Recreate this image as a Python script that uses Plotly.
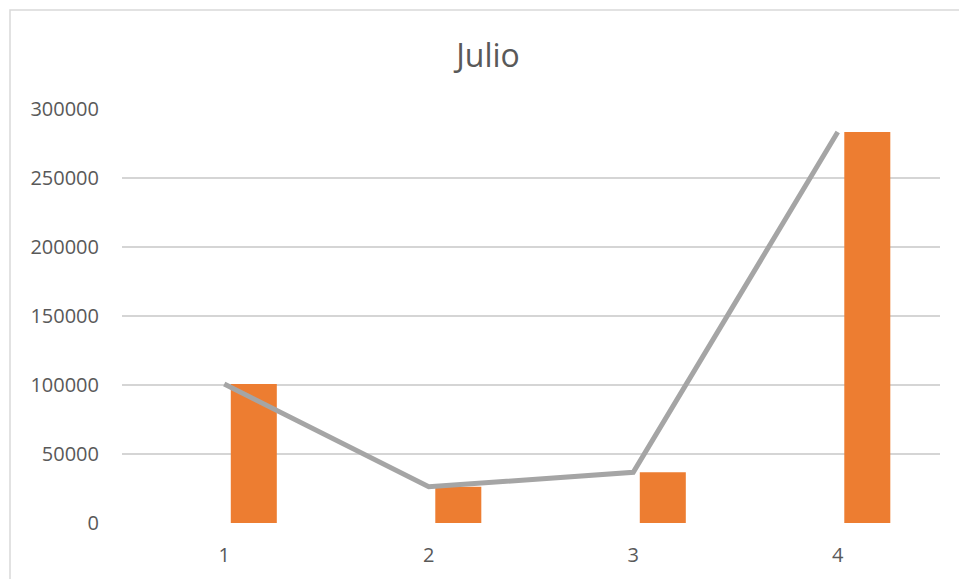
import plotly.graph_objects as go

categories = [1, 2, 3, 4]
bar_values = [100700, 26300, 36700, 283300]
line_values = [100700, 26300, 36700, 283300]
y_ticks = [0, 50000, 100000, 150000, 200000, 250000, 300000]
title_text = "Julio"

fig = go.Figure()
fig.add_trace(go.Bar(
    x=categories, y=bar_values,
    marker=dict(color="#ED7D31", line=dict(width=0)),
    width=0.225, offset=0.032,
    showlegend=False,
))
fig.add_trace(go.Scatter(
    x=categories, y=line_values, mode="lines",
    line=dict(color="#A5A5A5", width=5),
    showlegend=False,
))

fig.update_layout(
    width=959, height=579,
    margin=dict(l=122, r=19, t=109, b=56),
    paper_bgcolor="white", plot_bgcolor="white",
    font=dict(family="Open Sans", color="#595959", size=20),
    title=dict(text=title_text, x=488 / 959, xanchor="center", xref="container",
               y=1 - 56 / 579, yanchor="middle",
               font=dict(size=32, color="#595959", family="Open Sans")),
    xaxis=dict(range=[0.5, 4.5], tickmode="array", tickvals=categories,
               ticktext=[str(c) for c in categories],
               showgrid=False, zeroline=False, showline=False,
               ticks="", ticklabelstandoff=18,
               tickfont=dict(size=20, color="#595959")),
    yaxis=dict(range=[0, 300000], tickmode="array", tickvals=y_ticks,
               ticktext=[str(v) for v in y_ticks],
               showgrid=True, gridcolor="#D5D5D5", gridwidth=1.6,
               zeroline=False, showline=False, ticks="",
               ticklabelstandoff=22,
               tickfont=dict(size=20, color="#595959")),
    shapes=[dict(type="rect", xref="paper", yref="paper",
                 x0=(10 - 122) / 818, x1=(970 - 122) / 818,
                 y0=(523 - 590) / 414, y1=(523 - 10) / 414,
                 line=dict(color="#D9D9D9", width=1.5), layer="below")],
)

fig.write_html("out.html")
